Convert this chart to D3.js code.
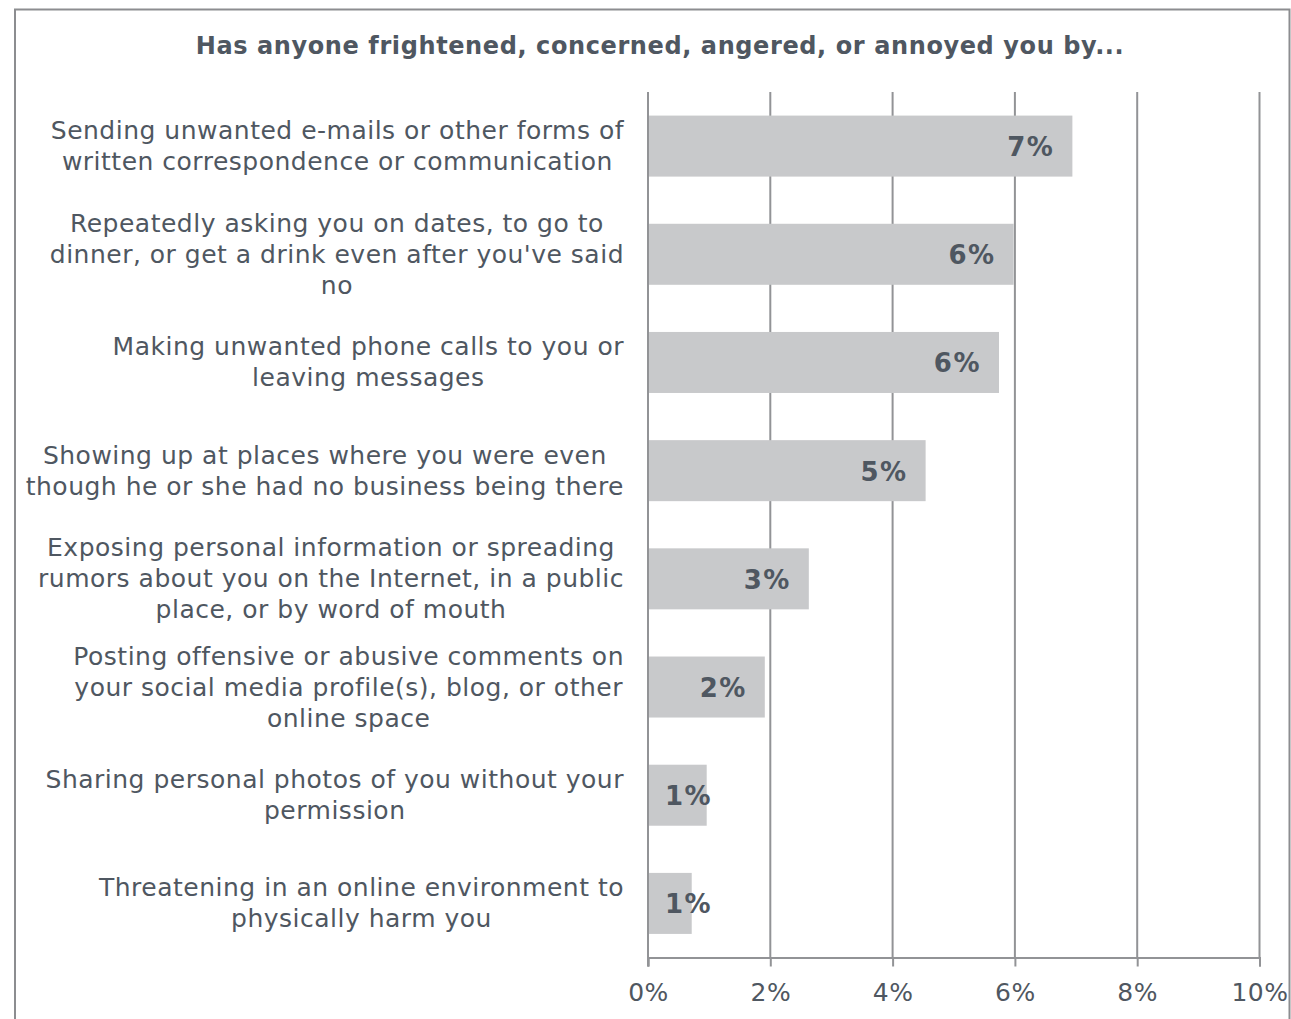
<!DOCTYPE html>
<html>
<head>
<meta charset="utf-8">
<script src="https://cdn.jsdelivr.net/npm/d3@7/dist/d3.min.js"></script>
<style>
  html, body { margin: 0; padding: 0; background: #fff; }
  svg { display: block; font-family: "DejaVu Sans", Verdana, sans-serif; }
</style>
</head>
<body>
<svg id="chart" width="1291" height="1019"></svg>
<script>
// Survey items, each split into the lines shown beside its bar
const categories = [
  ["Sending unwanted e-mails or other forms of", "written correspondence or communication"],
  ["Repeatedly asking you on dates, to go to", "dinner, or get a drink even after you've said", "no"],
  ["Making unwanted phone calls to you or", "leaving messages"],
  ["Showing up at places where you were even", "though he or she had no business being there"],
  ["Exposing personal information or spreading", "rumors about you on the Internet, in a public", "place, or by word of mouth"],
  ["Posting offensive or abusive comments on", "your social media profile(s), blog, or other", "online space"],
  ["Sharing personal photos of you without your", "permission"],
  ["Threatening in an online environment to", "physically harm you"]
];
// Share of respondents (percent)
const values = [6.94, 5.98, 5.74, 4.54, 2.63, 1.91, 0.96, 0.715];
const tickValues = [0, 2, 4, 6, 8, 10];
const tickLabels = ["0%", "2%", "4%", "6%", "8%", "10%"];
const title = "Has anyone frightened, concerned, angered, or annoyed you by...";

const svg = d3.select("#chart");
const textColor = "#4f5761";
const gridColor = "#929396";
const barColor = "#c8c9cb";

// Outer frame (open at the bottom edge of the canvas)
svg.append("path")
  .attr("d", "M15,1019 V9.5 H1289.5 V1019")
  .attr("fill", "none")
  .attr("stroke", "#8c8d90")
  .attr("stroke-width", 2);

svg.append("text")
  .attr("x", 660).attr("y", 46)
  .attr("text-anchor", "middle")
  .attr("dominant-baseline", "central")
  .attr("font-weight", "bold")
  .attr("font-size", 24)
  .attr("letter-spacing", 0.6)
  .attr("fill", textColor)
  .text(title);

const plot = { left: 648, right: 1259.5, top: 92, bottom: 957.5 };

const x = d3.scaleLinear().domain([0, 10]).range([plot.left, plot.right]);
const y = d3.scaleBand().domain(d3.range(values.length))
  .range([plot.top, plot.bottom]).paddingInner(0.436).paddingOuter(0.218);

// Vertical gridlines
svg.append("g").selectAll("line").data(tickValues.slice(1)).join("line")
  .attr("x1", d => x(d)).attr("x2", d => x(d))
  .attr("y1", plot.top).attr("y2", plot.bottom)
  .attr("stroke", gridColor).attr("stroke-width", 2);

// Bars
svg.append("g").selectAll("rect").data(values).join("rect")
  .attr("x", x(0))
  .attr("y", (d, i) => y(i))
  .attr("width", d => x(d) - x(0))
  .attr("height", y.bandwidth())
  .attr("fill", barColor);

// Value axis at the bottom
const xAxis = d3.axisBottom(x)
  .tickValues(tickValues)
  .tickFormat((d, i) => tickLabels[i])
  .tickSize(9)
  .tickPadding(17);
const gx = svg.append("g").attr("transform", `translate(0,${plot.bottom})`).call(xAxis);
gx.select(".domain").attr("stroke", gridColor).attr("stroke-width", 2);
gx.selectAll(".tick line").attr("stroke", gridColor).attr("stroke-width", 2);
gx.selectAll(".tick text")
  .attr("fill", textColor)
  .attr("font-size", 25)
  .attr("letter-spacing", 0.5)
  .attr("font-family", "DejaVu Sans, Verdana, sans-serif");

// Category axis line
svg.append("line")
  .attr("x1", x(0)).attr("x2", x(0))
  .attr("y1", plot.top).attr("y2", plot.bottom + 9)
  .attr("stroke", gridColor).attr("stroke-width", 2);

// Category labels: each block right-aligned, lines centred within it
const lineH = 31;
const labelRight = 624;
const labelG = svg.append("g");
categories.forEach((lines, i) => {
  const cy = y(i) + y.bandwidth() / 2;
  const g = labelG.append("g");
  const texts = lines.map((ln, j) => g.append("text")
    .attr("y", cy + (j - (lines.length - 1) / 2) * lineH)
    .attr("dominant-baseline", "central")
    .attr("text-anchor", "middle")
    .attr("font-size", 25)
    .attr("letter-spacing", 0.5)
    .attr("fill", textColor)
    .text(ln));
  const maxW = d3.max(texts, t => t.node().getComputedTextLength());
  texts.forEach(t => t.attr("x", labelRight - maxW / 2));
});

// Value labels, placed inside the bar end but kept clear of the axis
const valG = svg.append("g");
values.forEach((v, i) => {
  const t = valG.append("text")
    .attr("y", y(i) + y.bandwidth() / 2 + 1)
    .attr("dominant-baseline", "central")
    .attr("text-anchor", "end")
    .attr("font-weight", "bold")
    .attr("font-size", 26)
    .attr("letter-spacing", 1.5)
    .attr("fill", textColor)
    .text(Math.round(v) + "%");
  const w = t.node().getComputedTextLength();
  t.attr("x", Math.max(x(v) - 18, x(0) + 17 + w));
});
</script>
</body>
</html>
